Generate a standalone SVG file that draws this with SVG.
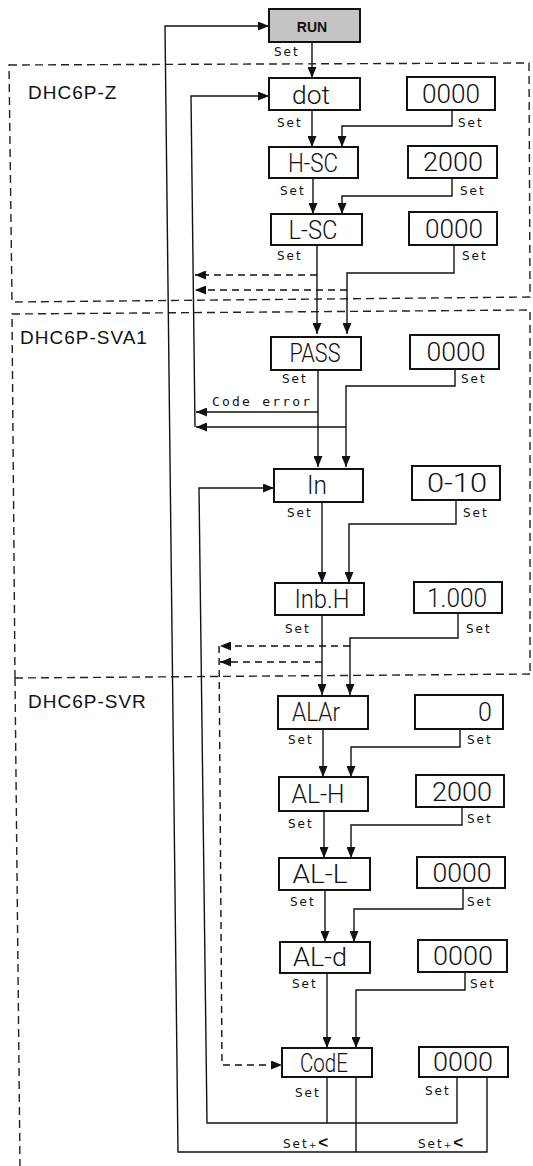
<svg xmlns="http://www.w3.org/2000/svg" width="533" height="1166" viewBox="0 0 533 1166">
<style>
.box{fill:#fff;stroke:#111;stroke-width:2}
.run{fill:#c4c4c4;stroke:#111;stroke-width:2}
.seg{font-family:Roboto,"Liberation Sans",sans-serif;font-weight:300;font-size:25px;fill:#111;text-anchor:middle}
.set{font-family:"DejaVu Sans",sans-serif;font-size:12px;letter-spacing:2px;fill:#111}
.zone{fill:none;stroke:#222;stroke-width:1.4;stroke-dasharray:8 5}
.zl{font-family:"Liberation Sans",sans-serif;font-size:19px;letter-spacing:1px;fill:#111}
.ln{fill:none;stroke:#111;stroke-width:1.4}
.dl{fill:none;stroke:#111;stroke-width:1.4;stroke-dasharray:7 5}
</style>
<defs>
<marker id="ah" markerUnits="userSpaceOnUse" markerWidth="11" markerHeight="9" refX="11" refY="4.5" orient="auto">
<path d="M0,0 L11,4.5 L0,9 z" fill="#111"/>
</marker>
</defs>

<g id="zones">
<polygon class="zone" points="9,65 529,63 530,297 12,302"/>
<polyline class="zone" points="15,678 12,314 530,310 530,676"/>
<line class="zone" x1="15" y1="678" x2="533" y2="674"/>
<line class="zone" x1="15" y1="678" x2="20" y2="1166"/>
<text class="zl" x="28" y="99">DHC6P-Z</text>
<text class="zl" x="20" y="344">DHC6P-SVA1</text>
<text class="zl" x="28" y="708">DHC6P-SVR</text>
</g>

<g id="connectors">
<polyline class="ln" points="487,1077 487,1152 178,1152 165,26 269,26" marker-end="url(#ah)"/>
<line class="ln" x1="356" y1="1077" x2="356" y2="1152"/>
<polyline class="ln" points="457,1077 457,1123 207,1123 199,488 274,488" marker-end="url(#ah)"/>
<line class="ln" x1="327" y1="1077" x2="327" y2="1123"/>
<polyline class="ln" points="195,427 191,96 269,96" marker-end="url(#ah)"/>
<line class="ln" x1="312" y1="42" x2="312" y2="78" marker-end="url(#ah)"/>
<line class="ln" x1="312" y1="110" x2="312" y2="147" marker-end="url(#ah)"/>
<polyline class="ln" points="452,110 452,126 342,126 342,147" marker-end="url(#ah)"/>
<line class="ln" x1="313" y1="178" x2="313" y2="214" marker-end="url(#ah)"/>
<polyline class="ln" points="452,178 452,196 342,196 342,214" marker-end="url(#ah)"/>
<line class="ln" x1="317" y1="245" x2="317" y2="334" marker-end="url(#ah)"/>
<polyline class="ln" points="454,245 454,273 347,273 347,334" marker-end="url(#ah)"/>
<line class="dl" x1="317" y1="275" x2="195" y2="275" marker-end="url(#ah)"/>
<line class="dl" x1="347" y1="290" x2="195" y2="290" marker-end="url(#ah)"/>
<line class="ln" x1="318" y1="370" x2="318" y2="467" marker-end="url(#ah)"/>
<polyline class="ln" points="455,369 455,386 346,386 346,467" marker-end="url(#ah)"/>
<line class="ln" x1="318" y1="412" x2="196" y2="412" marker-end="url(#ah)"/>
<line class="ln" x1="346" y1="427" x2="196" y2="427" marker-end="url(#ah)"/>
<line class="ln" x1="322" y1="502" x2="322" y2="583" marker-end="url(#ah)"/>
<polyline class="ln" points="456,500 456,524 349,524 349,583" marker-end="url(#ah)"/>
<line class="ln" x1="322" y1="615" x2="322" y2="695" marker-end="url(#ah)"/>
<polyline class="ln" points="458,613 458,638 350,638 350,695" marker-end="url(#ah)"/>
<line class="dl" x1="350" y1="646" x2="220" y2="646" marker-end="url(#ah)"/>
<line class="dl" x1="322" y1="662" x2="220" y2="662" marker-end="url(#ah)"/>
<polyline class="dl" points="219,646 222,1065 282,1065" marker-end="url(#ah)"/>
<line class="ln" x1="323" y1="729" x2="323" y2="777" marker-end="url(#ah)"/>
<polyline class="ln" points="460,729 460,747 351,747 351,777" marker-end="url(#ah)"/>
<line class="ln" x1="324" y1="811" x2="324" y2="858" marker-end="url(#ah)"/>
<polyline class="ln" points="462,807 462,825 351,825 351,858" marker-end="url(#ah)"/>
<line class="ln" x1="325" y1="890" x2="325" y2="942" marker-end="url(#ah)"/>
<polyline class="ln" points="463,888 463,909 354,909 354,942" marker-end="url(#ah)"/>
<line class="ln" x1="327" y1="973" x2="327" y2="1048" marker-end="url(#ah)"/>
<polyline class="ln" points="465,972 465,990 356,990 356,1048" marker-end="url(#ah)"/>
<text x="212" y="406" font-family="'DejaVu Sans Mono',monospace" font-size="13" letter-spacing="2.2" fill="#111">Code error</text>
<text x="283" y="1148" class="set">Set<tspan font-size="9">+</tspan><tspan font-family="'Liberation Sans',sans-serif" font-weight="bold" font-size="17">&lt;</tspan></text>
<text x="418" y="1148" class="set">Set<tspan font-size="9">+</tspan><tspan font-family="'Liberation Sans',sans-serif" font-weight="bold" font-size="17">&lt;</tspan></text>
</g>

<g id="run">
<rect class="run" x="269" y="9" width="91" height="33"/>
<text x="312" y="32" font-family="'Liberation Sans',sans-serif" font-weight="bold" font-size="14" text-anchor="middle" fill="#111">RUN</text>
<text class="set" x="274" y="56">Set</text>
</g>

<g id="dot">
<rect class="box" x="269" y="78" width="91" height="32"/>
<text class="seg" x="311" y="104" textLength="38" lengthAdjust="spacingAndGlyphs">dot</text>
<text class="set" x="277" y="127">Set</text>
</g>
<g id="dot-val">
<rect class="box" x="407" y="77" width="88" height="33"/>
<text class="seg" x="451" y="103" textLength="58" lengthAdjust="spacingAndGlyphs">0000</text>
<text class="set" x="458" y="127">Set</text>
</g>

<g id="hsc">
<rect class="box" x="269" y="147" width="89" height="31"/>
<text class="seg" x="313" y="172" textLength="50" lengthAdjust="spacingAndGlyphs">H-SC</text>
<text class="set" x="280" y="195">Set</text>
</g>
<g id="hsc-val">
<rect class="box" x="408" y="146" width="89" height="32"/>
<text class="seg" x="453" y="171" textLength="60" lengthAdjust="spacingAndGlyphs">2000</text>
<text class="set" x="460" y="195">Set</text>
</g>

<g id="lsc">
<rect class="box" x="271" y="214" width="91" height="31"/>
<text class="seg" x="313" y="239" textLength="49" lengthAdjust="spacingAndGlyphs">L-SC</text>
<text class="set" x="277" y="260">Set</text>
</g>
<g id="lsc-val">
<rect class="box" x="409" y="212" width="88" height="33"/>
<text class="seg" x="454" y="238" textLength="58" lengthAdjust="spacingAndGlyphs">0000</text>
<text class="set" x="462" y="260">Set</text>
</g>

<g id="pass">
<rect class="box" x="271" y="337" width="90" height="33"/>
<text class="seg" x="315" y="362" textLength="51" lengthAdjust="spacingAndGlyphs">PASS</text>
<text class="set" x="282" y="383">Set</text>
</g>
<g id="pass-val">
<rect class="box" x="410" y="335" width="89" height="34"/>
<text class="seg" x="456" y="361" textLength="59" lengthAdjust="spacingAndGlyphs">0000</text>
<text class="set" x="461" y="383">Set</text>
</g>

<g id="in">
<rect class="box" x="274" y="469" width="89" height="33"/>
<text class="seg" x="317" y="494" textLength="20" lengthAdjust="spacingAndGlyphs">In</text>
<text class="set" x="287" y="517">Set</text>
</g>
<g id="in-val">
<rect class="box" x="412" y="466" width="88" height="34"/>
<text class="seg" x="457" y="492" textLength="60" lengthAdjust="spacingAndGlyphs">0-10</text>
<text class="set" x="463" y="517">Set</text>
</g>

<g id="inbh">
<rect class="box" x="275" y="583" width="89" height="32"/>
<text class="seg" x="322" y="608" textLength="55" lengthAdjust="spacingAndGlyphs">Inb.H</text>
<text class="set" x="285" y="633">Set</text>
</g>
<g id="inbh-val">
<rect class="box" x="414" y="582" width="88" height="31"/>
<text class="seg" x="457" y="607" textLength="60" lengthAdjust="spacingAndGlyphs">1.000</text>
<text class="set" x="466" y="633">Set</text>
</g>

<g id="alar">
<rect class="box" x="278" y="696" width="90" height="33"/>
<text class="seg" x="316" y="721" textLength="48" lengthAdjust="spacingAndGlyphs">ALAr</text>
<text class="set" x="288" y="744">Set</text>
</g>
<g id="alar-val">
<rect class="box" x="415" y="695" width="88" height="34"/>
<text class="seg" x="485" y="721">0</text>
<text class="set" x="467" y="744">Set</text>
</g>

<g id="alh">
<rect class="box" x="279" y="777" width="89" height="34"/>
<text class="seg" x="318" y="803" textLength="53" lengthAdjust="spacingAndGlyphs">AL-H</text>
<text class="set" x="288" y="828">Set</text>
</g>
<g id="alh-val">
<rect class="box" x="416" y="775" width="88" height="32"/>
<text class="seg" x="462" y="801" textLength="60" lengthAdjust="spacingAndGlyphs">2000</text>
<text class="set" x="467" y="823">Set</text>
</g>

<g id="all">
<rect class="box" x="279" y="858" width="91" height="32"/>
<text class="seg" x="320" y="883" textLength="55" lengthAdjust="spacingAndGlyphs">AL-L</text>
<text class="set" x="290" y="906">Set</text>
</g>
<g id="all-val">
<rect class="box" x="417" y="857" width="88" height="31"/>
<text class="seg" x="462" y="882" textLength="59" lengthAdjust="spacingAndGlyphs">0000</text>
<text class="set" x="467" y="906">Set</text>
</g>

<g id="ald">
<rect class="box" x="280" y="942" width="90" height="31"/>
<text class="seg" x="320" y="966" textLength="54" lengthAdjust="spacingAndGlyphs">AL-d</text>
<text class="set" x="292" y="988">Set</text>
</g>
<g id="ald-val">
<rect class="box" x="418" y="940" width="89" height="32"/>
<text class="seg" x="463" y="965" textLength="60" lengthAdjust="spacingAndGlyphs">0000</text>
<text class="set" x="470" y="988">Set</text>
</g>

<g id="code">
<rect class="box" x="282" y="1048" width="90" height="29"/>
<text class="seg" x="324" y="1072" textLength="48" lengthAdjust="spacingAndGlyphs">CodE</text>
<text class="set" x="295" y="1097">Set</text>
</g>
<g id="code-val">
<rect class="box" x="419" y="1047" width="89" height="30"/>
<text class="seg" x="463" y="1071" textLength="60" lengthAdjust="spacingAndGlyphs">0000</text>
<text class="set" x="425" y="1095">Set</text>
</g>
</svg>
